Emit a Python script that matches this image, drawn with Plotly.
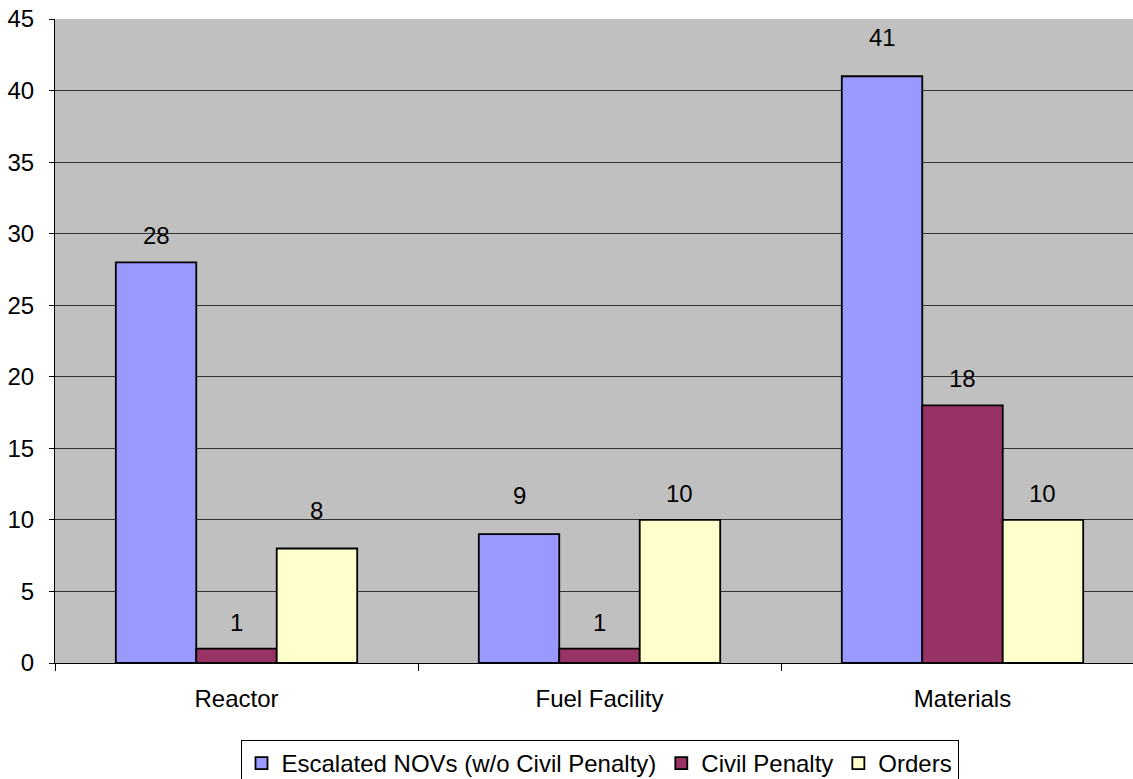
import plotly.graph_objects as go

categories = ["Reactor", "Fuel Facility", "Materials"]
series_names = ["Escalated NOVs (w/o Civil Penalty)", "Civil Penalty", "Orders"]
escalated = [28, 9, 41]
civil = [1, 1, 18]
orders = [8, 10, 10]
colors = ["#9999FF", "#993366", "#FFFFCC"]
y_ticks = [0, 5, 10, 15, 20, 25, 30, 35, 40, 45]

# extra vertical offset (px) of some value labels, as placed in the reference
label_extra = {(0, 1): 12, (0, 2): 12, (2, 0): 12}

FONT = "Liberation Sans, Arial, sans-serif"
FS = 24
series = [escalated, civil, orders]

fig = go.Figure()
for name, vals, col in zip(series_names, series, colors):
    fig.add_trace(go.Bar(
        name=name, x=categories, y=vals,
        marker=dict(color=col, line=dict(color="black", width=1.8)),
    ))

W, L, R = 1144, 55, 0
plot_w = W - L - R
x_range = [-0.5, 2.5]
px_per_cat = plot_w / (x_range[1] - x_range[0])
bargap = 0.335
bar_w = px_per_cat * (1 - bargap) / 3
for i, vals in enumerate(series):
    for j, (cat, v) in enumerate(zip(categories, vals)):
        fig.add_annotation(
            x=cat, y=v, xref="x", yref="y", text=str(v), showarrow=False,
            xshift=(i - 1) * bar_w, yshift=11 + label_extra.get((i, j), 0),
            yanchor="bottom",
            font=dict(family=FONT, size=FS, color="black"),
        )

fig.update_layout(
    width=W, height=798,
    margin=dict(l=L, r=R, t=19, b=135, autoexpand=False),
    paper_bgcolor="white", plot_bgcolor="#C0C0C0",
    barmode="group", bargap=bargap, bargroupgap=0,
    font=dict(family=FONT, size=FS, color="black"),
    showlegend=True,
    legend=dict(
        orientation="h", x=0.5, xanchor="center", y=-0.1196, yanchor="top",
        bgcolor="white", bordercolor="black", borderwidth=1,
        font=dict(family=FONT, size=FS, color="black"),
        itemwidth=30, tracegroupgap=0,
    ),
)
fig.update_xaxes(
    range=x_range, showline=True, linecolor="black", linewidth=1,
    ticks="outside", tickson="boundaries", ticklen=7, tickcolor="black",
    ticklabelstandoff=14, automargin=False,
    showgrid=False, tickfont=dict(family=FONT, size=FS, color="black"),
)
fig.update_yaxes(
    range=[0, 45], tickvals=y_ticks, showline=True, linecolor="black", linewidth=1,
    ticks="outside", ticklen=5, tickcolor="black", ticklabelstandoff=10,
    ticklabeloverflow="allow", automargin=False,
    showgrid=True, gridcolor="#333333", gridwidth=1, zeroline=False,
    tickfont=dict(family=FONT, size=FS, color="black"),
)

fig.write_html(
    "out.html",
    config={"displayModeBar": False},
    post_script="document.body.style.margin='0';document.body.style.overflow='hidden';",
)
